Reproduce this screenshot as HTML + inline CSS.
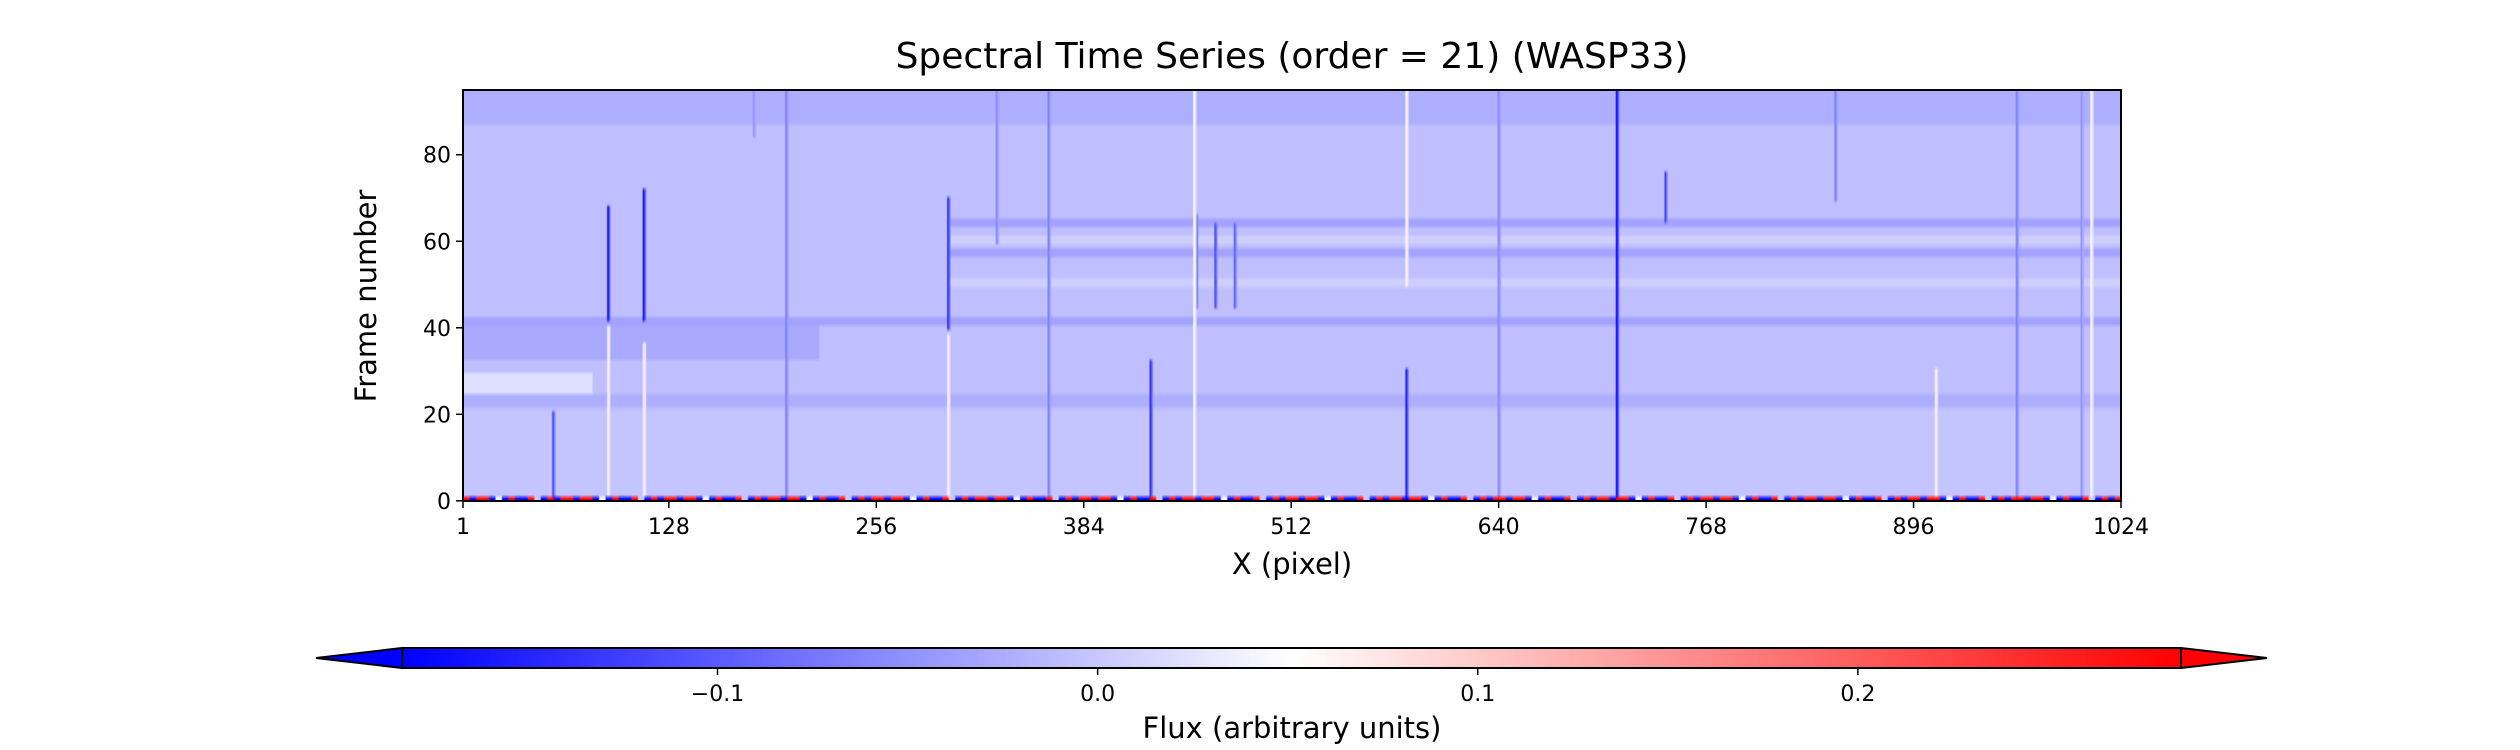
<!DOCTYPE html>
<html><head><meta charset="utf-8"><style>
html,body{margin:0;padding:0;background:#fff;width:2520px;height:750px;overflow:hidden}
#heat{position:absolute;left:463px;top:90px;width:1658px;height:411px}
#cb{position:absolute;left:402px;top:648px;width:1779px;height:20px}
svg{position:absolute;left:0;top:0}
text{font-family:"DejaVu Sans","Liberation Sans",sans-serif;fill:#000}
</style></head><body>
<canvas id="heat" width="1024" height="96"></canvas>
<canvas id="cb" width="1779" height="1"></canvas>
<svg width="2520" height="750" id="ov">
<text x="1292" y="68" font-size="36" text-anchor="middle">Spectral Time Series (order = 21) (WASP33)</text>
<rect x="463" y="90" width="1658" height="411" fill="none" stroke="#000" stroke-width="2"/>
<g id="xt"></g>
<g id="yt"></g>
<text x="1292" y="574" font-size="29" text-anchor="middle">X (pixel)</text>
<text transform="translate(376,296) rotate(-90)" font-size="29" text-anchor="middle">Frame number</text>
<polygon points="402,648 316,658 402,668" fill="#0000ff" stroke="#000" stroke-width="2"/>
<polygon points="2181,648 2267,658 2181,668" fill="#ff0000" stroke="#000" stroke-width="2"/>
<rect x="402" y="648" width="1779" height="20" fill="none" stroke="#000" stroke-width="2"/>
<g id="ct"></g>
<text x="1292" y="738" font-size="29" text-anchor="middle">Flux (arbitrary units)</text>
</svg>
<script>
const xTicks=[1,128,256,384,512,640,768,896,1024];
const yTicks=[0,20,40,60,80];
const cbTicks=[-0.1,0.0,0.1,0.2];
const cbLabels=["\u22120.1","0.0","0.1","0.2"];
const vMin=-0.183, vMax=0.285, baseFlux=-0.008;
// vertical features: x pixel, frame start, frame end, flux
const lineX=[56,90,112,300,453,465,477,425,583,713,743,90,112,300,583,910,1006,200,362,330,452,640,848,960,1000,180];
const lineF0=[0,42,42,40,45,45,45,0,0,0,65,0,0,0,50,0,0,0,0,60,0,0,70,0,0,85];
const lineF1=[20,68,72,70,66,64,64,32,30,95,76,40,36,38,95,30,95,95,95,95,95,95,95,95,95,95];
const lineV=[-0.12,-0.18,-0.18,-0.15,-0.14,-0.12,-0.1,-0.15,-0.16,-0.19,-0.13,0.06,0.07,0.06,0.06,0.06,0.06,-0.07,-0.07,-0.06,0.05,-0.06,-0.07,-0.07,-0.05,-0.05];
// horizontal bands: frame start, frame end, x start, x end, flux offset
const bandF0=[33,22,41,50,57,60,64,88,25,0];
const bandF1=[40,24,42,51,58,61,65,95,29,20];
const bandX0=[1,1,1,300,300,300,300,1,1,1];
const bandX1=[220,1024,1024,1024,1024,1024,1024,1024,80,1024];
const bandV=[-0.02,-0.015,-0.025,0.015,-0.025,0.015,-0.025,-0.015,0.03,0.005];
// frame-0 residual row pattern
const row0=[0.3,-0.2,0.3,0.3,-0.2,0.05,-0.2,0.3,-0.2,-0.2,0.3,0.0,-0.2,0.3,-0.2,0.3];

const X0=463,X1=2121,Y0=501,Y1=90;
const xs=v=>X0+(v-1)/1023*(X1-X0);
const ys=v=>Y0-(v+0.5)/95*(Y0-Y1);
const cs=v=>402+(v-vMin)/(vMax-vMin)*1779;
function bwr(v){let t=(v-vMin)/(vMax-vMin);t=Math.max(0,Math.min(1,t));
 if(t<0.5){const k=t*2;return[Math.round(255*k),Math.round(255*k),255];}
 const k=(1-t)*2;return[255,Math.round(255*k),Math.round(255*k)];}
const hc=document.getElementById('heat'),hx=hc.getContext('2d');
const img=hx.createImageData(1024,96);
const grid=[];for(let f=0;f<96;f++){grid.push(new Array(1024).fill(baseFlux));}
for(let b=0;b<bandV.length;b++)for(let f=bandF0[b];f<=bandF1[b]&&f<96;f++)for(let x=bandX0[b];x<=bandX1[b];x++)grid[f][x-1]+=bandV[b];
for(let i=0;i<lineX.length;i++)for(let f=lineF0[i];f<=lineF1[i]&&f<96;f++){grid[f][lineX[i]-1]=lineV[i];grid[f][lineX[i]]=(lineV[i]+baseFlux)/2;}
for(let x=0;x<1024;x++)grid[0][x]=row0[(x>>2)%row0.length];
for(let f=0;f<96;f++)for(let x=0;x<1024;x++){const c=bwr(grid[f][x]);const r=95-f;const p=(r*1024+x)*4;img.data[p]=c[0];img.data[p+1]=c[1];img.data[p+2]=c[2];img.data[p+3]=255;}
hx.putImageData(img,0,0);
const cc=document.getElementById('cb'),cx=cc.getContext('2d');
for(let i=0;i<1779;i++){const c=bwr(vMin+i/1778*(vMax-vMin));cx.fillStyle=`rgb(${c})`;cx.fillRect(i,0,1,1);}
const NS='http://www.w3.org/2000/svg';
function el(t,a,txt){const e=document.createElementNS(NS,t);for(const k in a)e.setAttribute(k,a[k]);if(txt!==undefined)e.textContent=txt;return e;}
const xt=document.getElementById('xt');
xTicks.forEach(v=>{const x=xs(v);
 const l=el('line',{x1:x,x2:x,y1:501,y2:508,stroke:'#000','stroke-width':1.5});
 
 xt.appendChild(l);
 const t=el('text',{x:x,y:534,'font-size':22,'text-anchor':'middle'},String(v));
 
 xt.appendChild(t);});
const yt=document.getElementById('yt');
yTicks.forEach(v=>{const y=ys(v)+2;
 const l=el('line',{x1:456,x2:463,y1:y,y2:y,stroke:'#000','stroke-width':1.5});
 
 yt.appendChild(l);
 const t=el('text',{x:451,y:y+8,'font-size':22,'text-anchor':'end'},String(v));
 
 yt.appendChild(t);});
const ct=document.getElementById('ct');
cbTicks.forEach((v,i)=>{const x=cs(v);
 const l=el('line',{x1:x,x2:x,y1:668,y2:675,stroke:'#000','stroke-width':1.5});
 
 ct.appendChild(l);
 const t=el('text',{x:x,y:701,'font-size':22,'text-anchor':'middle'},cbLabels[i]);
 
 ct.appendChild(t);});
</script>
</body></html>
